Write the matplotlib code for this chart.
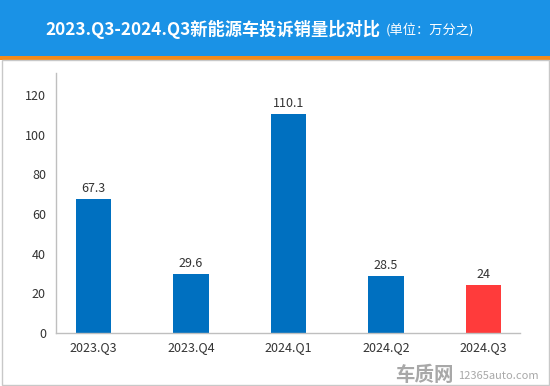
import matplotlib
matplotlib.use('Agg')
import matplotlib.pyplot as plt
from matplotlib.patches import Rectangle

plt.rcParams['font.family'] = ['Noto Sans CJK SC', 'DejaVu Sans']

quarters = ['2023.Q3', '2023.Q4', '2024.Q1', '2024.Q2', '2024.Q3']
ratios = [67.3, 29.6, 110.1, 28.5, 24]
labels = ['67.3', '29.6', '110.1', '28.5', '24']
colors = ['#0070C0', '#0070C0', '#0070C0', '#0070C0', '#FF3B3B']

W, H = 550, 386
fig = plt.figure(figsize=(W/100, H/100), dpi=100)

# header bar
fig.patches.append(Rectangle((0, 1-56/H), 1, 56/H, transform=fig.transFigure,
                             facecolor='#1A92E6', edgecolor='none', zorder=0))
fig.patches.append(Rectangle((0, 1-60/H), 1, 4/H, transform=fig.transFigure,
                             facecolor='#F28A1A', edgecolor='none', zorder=0))
# grey frame round the chart area
fig.patches.append(Rectangle((1.5/W, 1.5/H), (W-3)/W, (H-61.5)/H, transform=fig.transFigure,
                             facecolor='none', edgecolor='#C8C8C8', lw=1, zorder=0))

fig.text(45/W, 1-29/H, '2023.Q3-2024.Q3新能源车投诉销量比对比', color='white',
         fontsize=12.4, fontweight='bold', ha='left', va='center')
fig.text(386/W, 1-30/H, '(单位：万分之)', color='white', fontsize=9.5,
         ha='left', va='center')

ax = fig.add_axes([55.7/W, 53/H, (520-55.7)/W, 260/H])
x = list(range(len(quarters)))
bars = ax.bar(x, ratios, width=0.36, color=colors, zorder=2)
for b, t in zip(bars, labels):
    ax.annotate(t, (b.get_x() + b.get_width()/2, b.get_height()),
                xytext=(0, 3), textcoords='offset points',
                ha='center', va='bottom', fontsize=9, color='#333333')

ax.set_xlim(-0.388, 4.374)
ax.set_ylim(0, 131)
ax.set_yticks(range(0, 121, 20))
ax.set_xticks(x)
ax.set_xticklabels(quarters)
ax.tick_params(axis='both', length=0, labelsize=9, labelcolor='#333333')
ax.tick_params(axis='y', pad=7)
ax.tick_params(axis='x', pad=6)
for s in ['top', 'right']:
    ax.spines[s].set_visible(False)
for s in ['left', 'bottom']:
    ax.spines[s].set_color('#BFBFBF')
    ax.spines[s].set_linewidth(1)

# watermark
fig.text(395/W, 11/H, '车质网', color='#A8A8A8', fontsize=14, fontweight='bold',
         fontstyle='italic', ha='left', va='center')
fig.text(458/W, 10/H, '12365auto.com', color='#A8A8A8', fontsize=8,
         ha='left', va='center')

fig.savefig('out.png', dpi=100)
